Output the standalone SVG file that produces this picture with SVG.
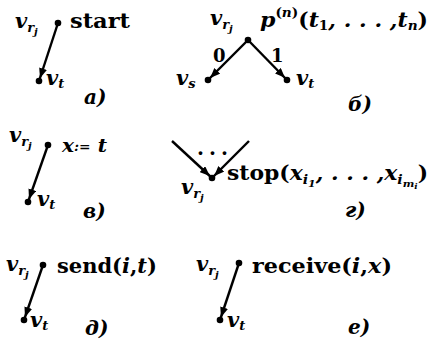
<svg xmlns="http://www.w3.org/2000/svg" width="431" height="342" viewBox="0 0 431 342">
<defs>
<style>
.m{font-family:"DejaVu Serif","Liberation Serif",serif;font-style:italic;font-weight:bold;fill:#000}
.b{font-family:"DejaVu Serif","Liberation Serif",serif;font-weight:bold;fill:#000}
.v{font-size:21px}
.s1{font-size:13px}
.s2{font-size:10px}
.e{stroke:#000;stroke-width:2.4;fill:none}
.d{fill:#000}
</style>
<marker id="ah" viewBox="0 0 10 8" refX="13" refY="4" markerWidth="10" markerHeight="8" markerUnits="userSpaceOnUse" orient="auto"><path d="M0,0 L10,4 L0,8 z" fill="#000"/></marker>
</defs>
<rect width="431" height="342" fill="#fff"/>
<g id="connectors">
<line class="e" x1="58" y1="23" x2="39" y2="81" marker-end="url(#ah)"/>
<line class="e" x1="248" y1="40" x2="208" y2="80" marker-end="url(#ah)"/>
<line class="e" x1="248" y1="40" x2="287" y2="80" marker-end="url(#ah)"/>
<line class="e" x1="48" y1="145" x2="28" y2="202" marker-end="url(#ah)"/>
<line class="e" x1="172" y1="141" x2="212" y2="178" marker-end="url(#ah)"/>
<line class="e" x1="249" y1="141" x2="212" y2="178" marker-end="url(#ah)"/>
<line class="e" x1="43" y1="265" x2="24" y2="320" marker-end="url(#ah)"/>
<line class="e" x1="239" y1="263" x2="220" y2="320" marker-end="url(#ah)"/>
</g>
<g id="a">
<circle class="d" cx="58" cy="23" r="3.3"/><circle class="d" cx="39" cy="81" r="3.3"/>
<text class="m v" x="15" y="28">v<tspan class="s1" dy="4">r</tspan><tspan class="s2" dy="3">j</tspan></text>
<text class="b" x="70" y="28" font-size="20" textLength="60" lengthAdjust="spacingAndGlyphs">start</text>
<text class="m v" x="46" y="85">v<tspan class="s1" dy="3">t</tspan></text>
<text class="m" x="84" y="104" font-size="20">a)</text>
</g>
<g id="b">
<circle class="d" cx="248" cy="40" r="3.3"/><circle class="d" cx="208" cy="80" r="3.3"/><circle class="d" cx="287" cy="80" r="3.3"/>
<text class="m v" x="210" y="25">v<tspan class="s1" dy="4">r</tspan><tspan class="s2" dy="3">j</tspan></text>
<text class="m v" x="260" y="27" textLength="168" lengthAdjust="spacingAndGlyphs">p<tspan class="s1" dy="-10" font-style="normal">(</tspan><tspan class="s1">n</tspan><tspan class="s1" font-style="normal">)</tspan><tspan dy="10" font-style="normal">(</tspan>t<tspan class="s1" dy="3" font-style="normal">1</tspan><tspan dy="-3">, . . . ,</tspan>t<tspan class="s1" dy="3">n</tspan><tspan dy="-3" font-style="normal">)</tspan></text>
<text class="b" x="213" y="62" font-size="18">0</text>
<text class="b" x="271" y="62" font-size="18">1</text>
<text class="m v" x="176" y="85">v<tspan class="s1" dy="3">s</tspan></text>
<text class="m v" x="296" y="85">v<tspan class="s1" dy="3">t</tspan></text>
<text class="m" x="348" y="111" font-size="20">б)</text>
</g>
<g id="c">
<circle class="d" cx="48" cy="145" r="3.3"/><circle class="d" cx="28" cy="202" r="3.3"/>
<text class="m v" x="9" y="142">v<tspan class="s1" dy="4">r</tspan><tspan class="s2" dy="3">j</tspan></text>
<text class="m" x="62" y="152" font-size="19" textLength="45" lengthAdjust="spacingAndGlyphs">x<tspan font-size="13" dy="-1">:=</tspan><tspan dy="1"> t</tspan></text>
<text class="m v" x="37" y="206">v<tspan class="s1" dy="3">t</tspan></text>
<text class="m" x="83" y="218" font-size="20">в)</text>
</g>
<g id="d">
<circle class="d" cx="212" cy="178" r="3.3"/>
<text class="b" x="197" y="155" font-size="20" letter-spacing="5">...</text>
<text class="m v" x="181" y="194">v<tspan class="s1" dy="4">r</tspan><tspan class="s2" dy="3">j</tspan></text>
<text class="b" x="227" y="180" font-size="20" textLength="201" lengthAdjust="spacingAndGlyphs">stop<tspan>(</tspan><tspan class="m">x</tspan><tspan class="m s1" dy="4">i</tspan><tspan class="m s2" dy="3">1</tspan><tspan dy="-7" class="m">, . . . ,</tspan><tspan class="m">x</tspan><tspan class="m s1" dy="4">i</tspan><tspan class="m s2" dy="3">m</tspan><tspan class="m" font-size="8" dy="2">i</tspan><tspan dy="-9">)</tspan></text>
<text class="m" x="345" y="217" font-size="20">г)</text>
</g>
<g id="e">
<circle class="d" cx="43" cy="265" r="3.3"/><circle class="d" cx="24" cy="320" r="3.3"/>
<text class="m v" x="6" y="271">v<tspan class="s1" dy="4">r</tspan><tspan class="s2" dy="3">j</tspan></text>
<text class="b" x="57" y="273" font-size="20" textLength="100" lengthAdjust="spacingAndGlyphs">send<tspan>(</tspan><tspan class="m">i</tspan>,<tspan class="m">t</tspan>)</text>
<text class="m v" x="30" y="327">v<tspan class="s1" dy="3">t</tspan></text>
<text class="m" x="85" y="335" font-size="20">д)</text>
</g>
<g id="f">
<circle class="d" cx="239" cy="263" r="3.3"/><circle class="d" cx="220" cy="320" r="3.3"/>
<text class="m v" x="196" y="271">v<tspan class="s1" dy="4">r</tspan><tspan class="s2" dy="3">j</tspan></text>
<text class="b" x="252" y="273" font-size="20" textLength="140" lengthAdjust="spacingAndGlyphs">receive<tspan>(</tspan><tspan class="m">i</tspan>,<tspan class="m">x</tspan>)</text>
<text class="m v" x="227" y="327">v<tspan class="s1" dy="3">t</tspan></text>
<text class="m" x="348" y="334" font-size="20">е)</text>
</g>
</svg>
